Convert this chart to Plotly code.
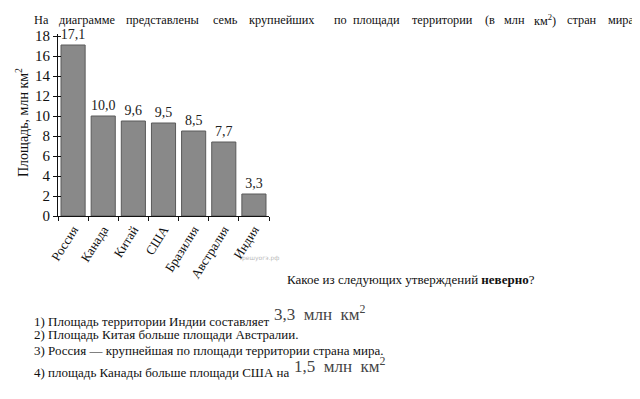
import plotly.graph_objects as go

countries = ["Россия", "Канада", "Китай", "США", "Бразилия", "Австралия", "Индия"]
area_labels = ["17,1", "10,0", "9,6", "9,5", "8,5", "7,7", "3,3"]
bar_heights = [17.1, 10.0, 9.5, 9.3, 8.5, 7.4, 2.2]
y_ticks = [0, 2, 4, 6, 8, 10, 12, 14, 16, 18]

intro_words = ["На", "диаграмме", "представлены", "семь", "крупнейших", "по", "площади",
               "территории", "(в", "млн", "км<sup>2</sup>)", "стран", "мира."]
intro_x = [32, 57, 124, 211, 247, 332, 351, 410, 483, 502, 532, 565, 606]

# page has an 8px body margin; figure coordinates = page coordinates - 8
OFF = 8
W, H = 640 - OFF, 399 - OFF
L, T = 58 - OFF, 34 - OFF
R = W - (269 - OFF)
B = H - (216 - OFF)
PW, PH = W - L - R, H - T - B

def xp(px):
    return (px - OFF - L) / PW

def yp(py):
    return (H - B - (py - OFF)) / PH

SERIF = "Liberation Serif, Times New Roman, DejaVu Serif, serif"
INK = "#111"

fig = go.Figure()
fig.add_trace(go.Bar(
    x=countries, y=bar_heights, text=area_labels, textposition="outside",
    constraintext="none", cliponaxis=False,
    textfont=dict(family=SERIF, size=14, color="#222"),
    marker=dict(color="#898989", line=dict(color="#5a5a5a", width=1)),
    width=0.8,
))

ann = []
ann.append(dict(text="<b>8. Задание 8</b>", x=xp(7), y=yp(-1), xanchor="left", yanchor="middle",
                font=dict(family="DejaVu Sans", size=12, color=INK)))
for w, x in zip(intro_words, intro_x):
    ann.append(dict(text=w, x=xp(x), y=yp(20), xanchor="left", yanchor="middle",
                    font=dict(family=SERIF, size=12.3, color=INK)))
ann.append(dict(text="Площадь, млн км<sup>2</sup>", x=xp(22), y=yp(123), textangle=-90,
                xanchor="center", yanchor="middle", font=dict(family=SERIF, size=14, color=INK)))
ann.append(dict(text="решуогэ.рф", x=xp(240), y=yp(258), xanchor="left", yanchor="middle",
                font=dict(family="DejaVu Sans", size=6, color="#bbb")))
ann.append(dict(text="Какое из следующих утверждений <b>неверно</b>?", x=xp(285), y=yp(279),
                xanchor="left", yanchor="middle", font=dict(family=SERIF, size=13, color=INK)))
ann.append(dict(text="1) Площадь территории Индии составляет", x=xp(32), y=yp(321),
                xanchor="left", yanchor="middle", font=dict(family=SERIF, size=13, color=INK)))
ann.append(dict(text="3,3  млн  км<sup>2</sup>", x=xp(272), y=yp(313),
                xanchor="left", yanchor="middle", font=dict(family=SERIF, size=17, color="#444")))
ann.append(dict(text="2) Площадь Китая больше площади Австралии.", x=xp(32), y=yp(334),
                xanchor="left", yanchor="middle", font=dict(family=SERIF, size=13, color=INK)))
ann.append(dict(text="3) Россия — крупнейшая по площади территории страна мира.", x=xp(32), y=yp(350),
                xanchor="left", yanchor="middle", font=dict(family=SERIF, size=13, color=INK)))
ann.append(dict(text="4) площадь Канады больше площади США на", x=xp(32), y=yp(372),
                xanchor="left", yanchor="middle", font=dict(family=SERIF, size=13, color=INK)))
ann.append(dict(text="1,5  млн  км<sup>2</sup>", x=xp(292), y=yp(365),
                xanchor="left", yanchor="middle", font=dict(family=SERIF, size=17, color="#444")))
for a in ann:
    a.update(xref="paper", yref="paper", showarrow=False)

fig.update_layout(
    width=W, height=H, autosize=False,
    margin=dict(l=L, r=R, t=T, b=B, pad=0),
    paper_bgcolor="white", plot_bgcolor="white",
    showlegend=False, bargap=0.2,
    annotations=ann,
    xaxis=dict(showline=True, linecolor=INK, linewidth=1, ticks="outside", ticklen=4,
               tickcolor=INK, tickson="boundaries", tickangle=-58, showgrid=False,
               tickfont=dict(family=SERIF, size=13, color=INK)),
    yaxis=dict(range=[0, 18.2], tickvals=y_ticks, showline=True, linecolor=INK, linewidth=1,
               ticks="outside", ticklen=4, tickcolor=INK, showgrid=False, zeroline=False,
               tickfont=dict(family=SERIF, size=15, color=INK)),
    yaxis2=dict(range=[0, 18.2], tickvals=y_ticks, overlaying="y", ticks="inside", ticklen=3,
                tickcolor=INK, showticklabels=False, showgrid=False, zeroline=False,
                showline=False),
)
fig.add_trace(go.Scatter(x=[countries[0]], y=[0], yaxis="y2", mode="markers",
                         marker=dict(opacity=0), hoverinfo="skip"))

fig.write_html("out.html")
